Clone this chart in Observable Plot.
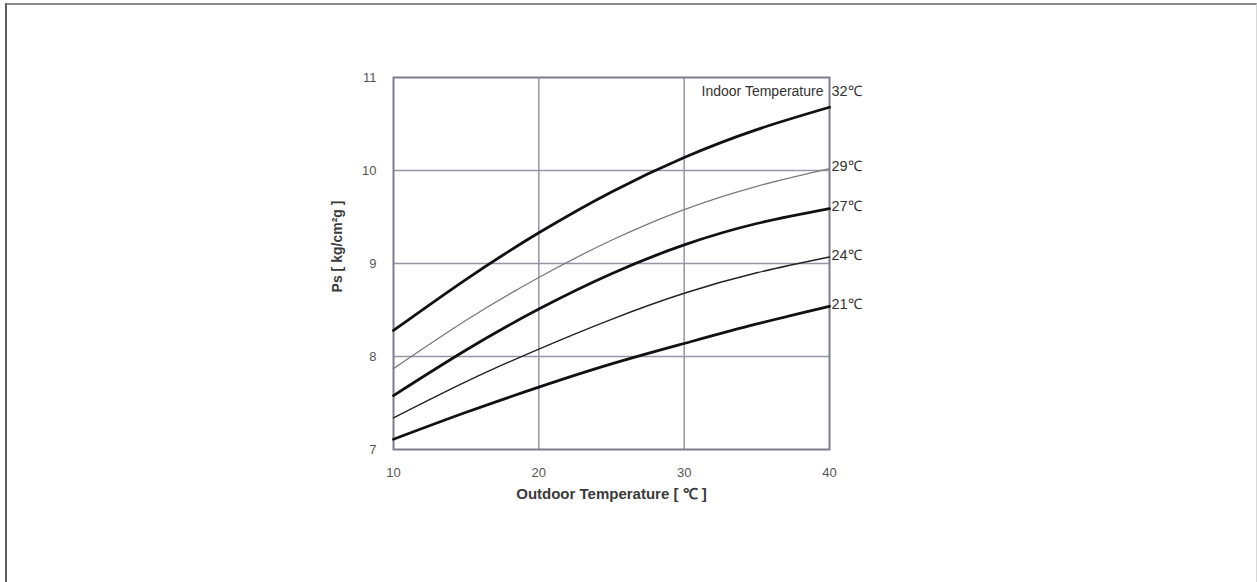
<!DOCTYPE html>
<html>
<head>
<meta charset="utf-8">
<script src="https://cdn.jsdelivr.net/npm/d3@7"></script>
<script src="https://cdn.jsdelivr.net/npm/@observablehq/plot@0.6"></script>
<style>
  html, body { margin: 0; padding: 0; background: #fff; }
  #wrap { position: relative; width: 1257px; height: 582px; overflow: hidden; }
  #border { position: absolute; left: 5px; top: 3px; width: 1249px; height: 600px;
            border-top: 2px solid #8a8a8a; border-left: 2px solid #5e5a58; border-right: 1px solid #d8d8d8; }
  svg { position: absolute; left: 0; top: 0; }
</style>
</head>
<body>
<div id="wrap"><div id="border"></div></div>
<script>
// Outdoor temperature (°C) sample points
const outdoorTemps = [10, 15, 20, 25, 30, 35, 40];
// Ps [kg/cm²g] for each indoor temperature curve
const ps32 = [8.28, 8.83, 9.33, 9.77, 10.14, 10.44, 10.68];
const ps29 = [7.87, 8.39, 8.85, 9.25, 9.58, 9.83, 10.02];
const ps27 = [7.58, 8.07, 8.51, 8.89, 9.20, 9.43, 9.59];
const ps24 = [7.34, 7.73, 8.08, 8.40, 8.68, 8.90, 9.07];
const ps21 = [7.11, 7.40, 7.67, 7.92, 8.14, 8.35, 8.54];
const seriesNames = ["32℃", "29℃", "27℃", "24℃", "21℃"];
const seriesValues = [ps32, ps29, ps27, ps24, ps21];
const xTicks = [10, 20, 30, 40];
const yTicks = [7, 8, 9, 10, 11];
const xGrid = [20, 30];
const yGrid = [8, 9, 10];

const styles = {
  "32℃": {stroke: "#111", w: 2.8},
  "29℃": {stroke: "#7a7a7a", w: 1.3},
  "27℃": {stroke: "#111", w: 2.8},
  "24℃": {stroke: "#222", w: 1.4},
  "21℃": {stroke: "#111", w: 2.8}
};

const rows = [];
seriesNames.forEach((name, i) => {
  outdoorTemps.forEach((t, j) => rows.push({series: name, t, ps: seriesValues[i][j]}));
});
const ends = seriesNames.map((name, i) => ({series: name, t: 40, ps: seriesValues[i][seriesValues[i].length - 1]}));

const narrow = "'Liberation Sans Narrow', 'Arial Narrow', 'Liberation Sans', Arial, sans-serif";
const gridColor = "#9595a8";

const lineMarks = seriesNames.map(name => Plot.line(rows.filter(d => d.series === name), {
  x: "t", y: "ps", curve: "natural", stroke: styles[name].stroke, strokeWidth: styles[name].w
}));

const chart = Plot.plot({
  width: 1257,
  height: 582,
  marginLeft: 393,
  marginRight: 428,
  marginTop: 77,
  marginBottom: 133,
  style: {fontFamily: narrow, background: "transparent"},
  x: {domain: [10, 40]},
  y: {domain: [7, 11]},
  marks: [
    Plot.ruleX(xGrid, {stroke: gridColor, strokeWidth: 1.5}),
    Plot.ruleY(yGrid, {stroke: gridColor, strokeWidth: 1.5}),
    Plot.frame({stroke: "#7d7d90", strokeWidth: 2}),
    ...lineMarks,
    Plot.axisX({ticks: xTicks, tickSize: 0, tickPadding: 18, fontSize: 13, fill: "#555", label: null, tickFormat: d => String(d)}),
    Plot.axisY({ticks: yTicks, tickSize: 0, tickPadding: 17, fontSize: 13, fill: "#555", label: null, tickFormat: d => String(d)}),
    Plot.text(ends.filter(d => d.series !== "32℃"), {
      x: "t", y: "ps", text: "series", textAnchor: "start", dx: 2, dy: -2,
      fontSize: 14.5, fill: "#333"
    }),
    Plot.text(ends.filter(d => d.series === "32℃"), {
      x: "t", y: "ps", text: "series", textAnchor: "start", dx: 2, dy: -16,
      fontSize: 14.5, fill: "#333"
    }),
    Plot.text(ends.filter(d => d.series === "32℃"), {
      x: "t", y: "ps", text: () => "Indoor Temperature", textAnchor: "end", dx: -6, dy: -16,
      fontSize: 14, fill: "#333"
    }),
    Plot.text(["Outdoor Temperature [ ℃ ]"], {
      frameAnchor: "bottom", text: d => d, dy: 45, lineAnchor: "middle", textAnchor: "middle",
      fontSize: 15, fontWeight: "bold", fill: "#3a3a3a", fontFamily: "'Liberation Sans', Arial, sans-serif"
    }),
    Plot.text(["Ps [ kg/cm²g ]"], {
      frameAnchor: "left", text: d => d, rotate: -90, dx: -56, dy: -17, lineAnchor: "middle", textAnchor: "middle",
      fontSize: 14, fontWeight: "bold", fill: "#3a3a3a", fontFamily: "'Liberation Sans', Arial, sans-serif"
    })
  ]
});
document.getElementById("wrap").appendChild(chart);
</script>
</body>
</html>
